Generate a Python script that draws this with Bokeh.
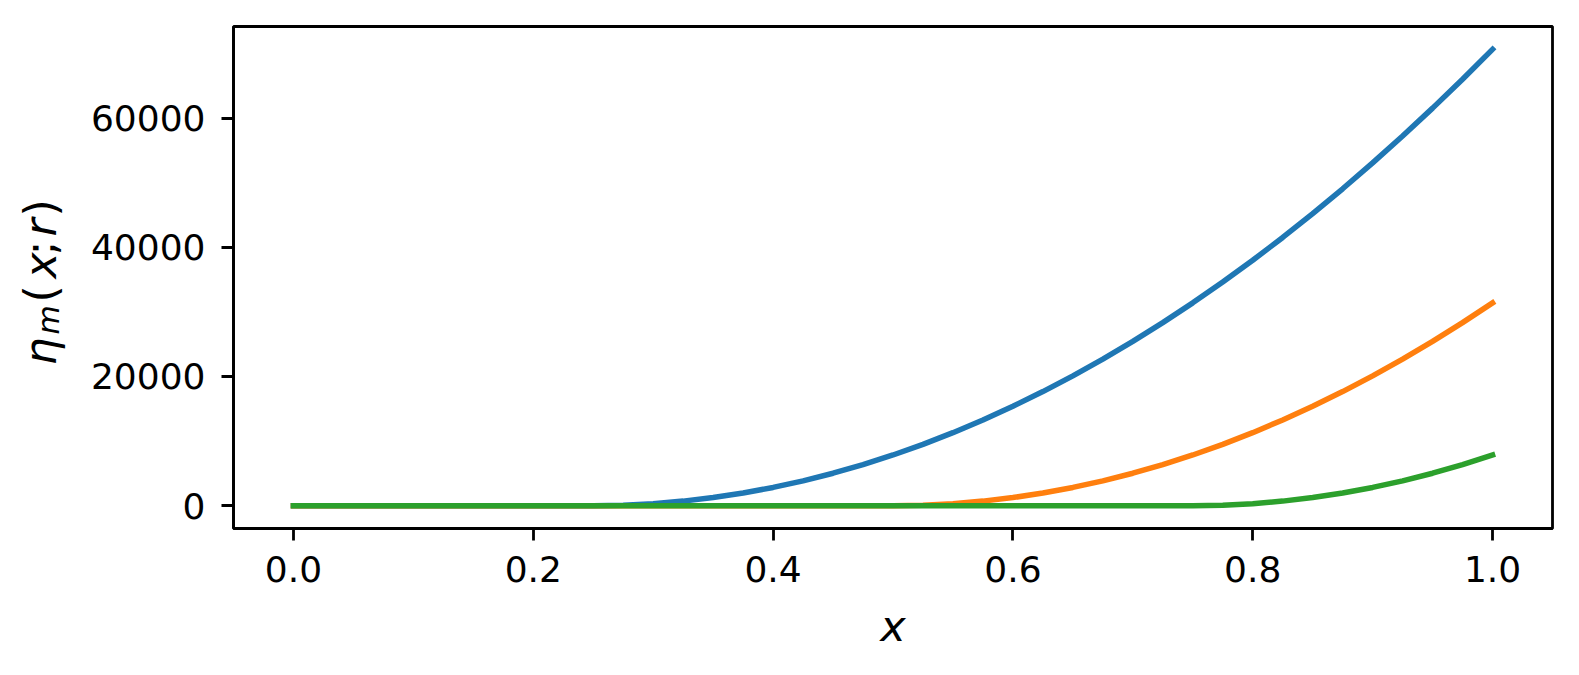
import math
from bokeh.plotting import figure
from bokeh.layouts import row
from bokeh.models import Range1d, FixedTicker, PrintfTickFormatter, Label
from bokeh.embed import file_html
from bokeh.resources import INLINE

# ---- data ----
x_values = [0.000, 0.025, 0.050, 0.075, 0.100, 0.125, 0.150, 0.175, 0.200, 0.225,
            0.250, 0.275, 0.300, 0.325, 0.350, 0.375, 0.400, 0.425, 0.450, 0.475,
            0.500, 0.525, 0.550, 0.575, 0.600, 0.625, 0.650, 0.675, 0.700, 0.725,
            0.750, 0.775, 0.800, 0.825, 0.850, 0.875, 0.900, 0.925, 0.950, 0.975,
            1.000]
eta_blue = [0, 0, 0, 0, 0, 0, 0, 0, 0, 0,
            0, 79, 314, 707, 1256, 1963, 2826, 3847, 5024, 6359,
            7850, 9499, 11304, 13267, 15386, 17663, 20096, 22687, 25434, 28339,
            31400, 34619, 37994, 41527, 45216, 49063, 53066, 57227, 61544, 66019,
            70650]
eta_orange = [0, 0, 0, 0, 0, 0, 0, 0, 0, 0,
              0, 0, 0, 0, 0, 0, 0, 0, 0, 0,
              0, 79, 314, 707, 1256, 1963, 2826, 3847, 5024, 6359,
              7850, 9499, 11304, 13267, 15386, 17663, 20096, 22687, 25434, 28339,
              31400]
eta_green = [0, 0, 0, 0, 0, 0, 0, 0, 0, 0,
             0, 0, 0, 0, 0, 0, 0, 0, 0, 0,
             0, 0, 0, 0, 0, 0, 0, 0, 0, 0,
             0, 79, 314, 707, 1256, 1963, 2826, 3847, 5024, 6359,
             7850]
x_ticks = [0.0, 0.2, 0.4, 0.6, 0.8, 1.0]
y_ticks = [0, 20000, 40000, 60000]
colors = ["#1f77b4", "#ff7f0e", "#2ca02c"]

FONT = "DejaVu Sans"
H = 671
W_LAB = 80                  # narrow strip holding the rotated y label
W_MAIN = 1575 - W_LAB
FL, FR, FT, FB = 233 - W_LAB, 23, 26, 143
FRAME_BOTTOM = FT + (H - FT - FB)   # page y of the frame bottom (528)

# ---- y-label strip ----
lab = figure(width=W_LAB, height=H, output_backend="svg", toolbar_location=None,
             x_axis_type=None, y_axis_type=None,
             min_border_left=0, min_border_right=0,
             min_border_top=FT, min_border_bottom=FB,
             x_range=Range1d(0, 1), y_range=Range1d(0, 1))
lab.title.visible = False
lab.grid.visible = False
lab.outline_line_color = None
lab.background_fill_color = "white"
lab.border_fill_color = "white"

# (text, origin page-y, baseline page-x, style, size)
pieces = [
    ("η", 365, 40, "italic", "44px"),
    ("m", 334, 48, "italic", "30px"),
    ("(", 302, 40, "normal", "44px"),
    ("x", 278, 40, "italic", "44px"),
    (";", 255, 40, "normal", "44px"),
    ("r", 236, 40, "italic", "44px"),
    (")", 216, 40, "normal", "44px"),
]
for t, py, px, style, size in pieces:
    lab.add_layout(Label(x=px, y=FRAME_BOTTOM - py, x_units="screen", y_units="screen",
                         text=t, angle=math.pi / 2, text_font=FONT,
                         text_font_style=style, text_font_size=size,
                         text_align="left", text_baseline="alphabetic",
                         text_color="black"))

# ---- main plot ----
p = figure(width=W_MAIN, height=H, output_backend="svg", toolbar_location=None,
           x_range=Range1d(-0.05, 1.05), y_range=Range1d(-3532.5, 74182.5),
           min_border_left=FL, min_border_right=FR, min_border_top=FT,
           min_border_bottom=FB)
p.title.visible = False
p.grid.visible = False
p.background_fill_color = "white"
p.border_fill_color = "white"
p.outline_line_color = "black"
p.outline_line_width = 2.8
p.outline_line_alpha = 1.0

for ax in (p.xaxis[0], p.yaxis[0]):
    ax.axis_line_color = "black"
    ax.axis_line_width = 2.8
    ax.major_tick_line_width = 2.8
    ax.major_tick_line_color = "black"
    ax.major_tick_out = 12
    ax.major_tick_in = 0
    ax.minor_tick_line_color = None
    ax.major_label_text_font = FONT
    ax.major_label_text_font_size = "36px"
    ax.major_label_text_color = "black"

p.xaxis[0].ticker = FixedTicker(ticks=x_ticks)
p.xaxis[0].formatter = PrintfTickFormatter(format="%.1f")
p.xaxis[0].major_label_standoff = 15
p.xaxis[0].axis_label = "x"
p.xaxis[0].axis_label_text_font = FONT
p.xaxis[0].axis_label_text_font_style = "italic"
p.xaxis[0].axis_label_text_font_size = "43px"
p.xaxis[0].axis_label_text_color = "black"
p.xaxis[0].axis_label_standoff = 16
p.yaxis[0].ticker = FixedTicker(ticks=y_ticks)
p.yaxis[0].formatter = PrintfTickFormatter(format="%d")
p.yaxis[0].major_label_standoff = 16

for ys, c in zip([eta_blue, eta_orange, eta_green], colors):
    p.line(x_values, ys, line_color=c, line_width=5.5, line_cap="square")

layout = row(lab, p)
open("out.html", "w").write(file_html(layout, INLINE))
